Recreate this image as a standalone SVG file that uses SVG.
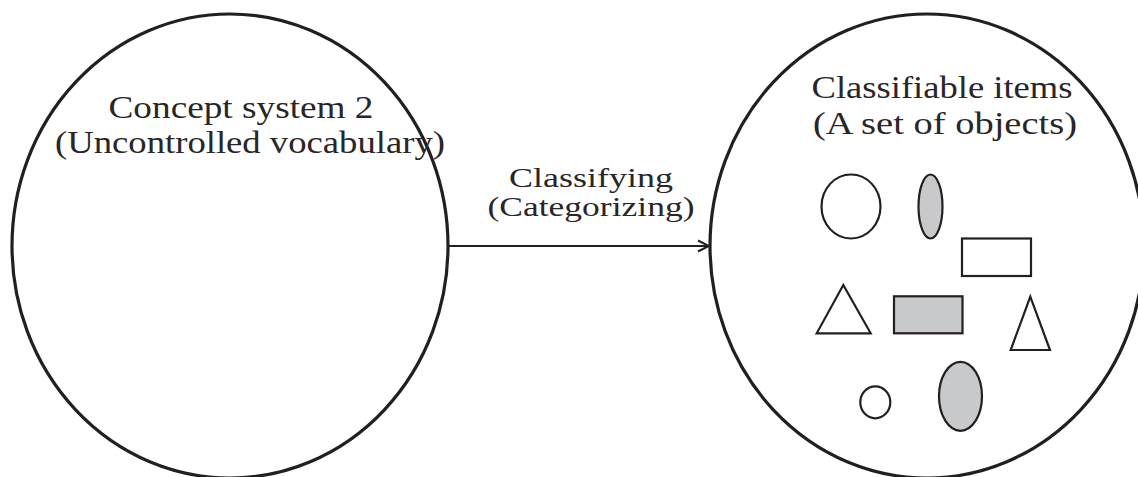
<svg xmlns="http://www.w3.org/2000/svg" width="1138" height="477" viewBox="0 0 1138 477">
<style>
.big{fill:#fff;stroke:#231f20;stroke-width:3.2}
.sh{stroke:#231f20;stroke-width:2.2;fill:#fff}
.gr{fill:#c8c9cb}
.t{font-family:"Liberation Serif","DejaVu Serif",serif;font-size:31px;fill:#2a2627;text-anchor:middle}
.m{font-size:28px}
.conn{stroke:#231f20;stroke-width:2;fill:none}
</style>
<defs>
<marker id="arr" markerWidth="14" markerHeight="14" refX="12" refY="7" orient="auto" markerUnits="userSpaceOnUse">
<path d="M1,1.5 L12,7 L1,12.5" fill="none" stroke="#231f20" stroke-width="2"/>
</marker>
</defs>
<rect width="1138" height="477" fill="#fff"/>
<g id="concept-system">
<ellipse class="big" cx="230" cy="246" rx="218" ry="232"/>
<text class="t" x="241" y="118" textLength="265" lengthAdjust="spacingAndGlyphs">Concept system 2</text>
<text class="t" x="250" y="153" textLength="390" lengthAdjust="spacingAndGlyphs">(Uncontrolled vocabulary)</text>
</g>
<g id="classifiable-items">
<ellipse class="big" cx="927" cy="246" rx="217" ry="232"/>
<text class="t" x="942" y="98" textLength="261" lengthAdjust="spacingAndGlyphs">Classifiable items</text>
<text class="t" x="945" y="134" textLength="264" lengthAdjust="spacingAndGlyphs">(A set of objects)</text>
<ellipse class="sh" cx="851" cy="206.5" rx="29.5" ry="32"/>
<ellipse class="sh gr" cx="930.5" cy="206.5" rx="12" ry="32"/>
<rect class="sh" x="962" y="238.5" width="69" height="37.5"/>
<polygon class="sh" points="843.3,285 816.7,333.3 870.7,333.3"/>
<rect class="sh gr" x="894" y="296.3" width="68.5" height="37"/>
<polygon class="sh" points="1030.3,296.7 1010.7,350 1050,350"/>
<ellipse class="sh" cx="875.3" cy="402.3" rx="15" ry="16"/>
<ellipse class="sh gr" cx="960.5" cy="396.3" rx="21.5" ry="34.5"/>
</g>
<g id="connectors">
<line class="conn" x1="449" y1="246" x2="709" y2="246" marker-end="url(#arr)"/>
<text class="t m" x="591" y="187" textLength="164" lengthAdjust="spacingAndGlyphs">Classifying</text>
<text class="t m" x="591" y="216" textLength="207" lengthAdjust="spacingAndGlyphs">(Categorizing)</text>
</g>
</svg>
